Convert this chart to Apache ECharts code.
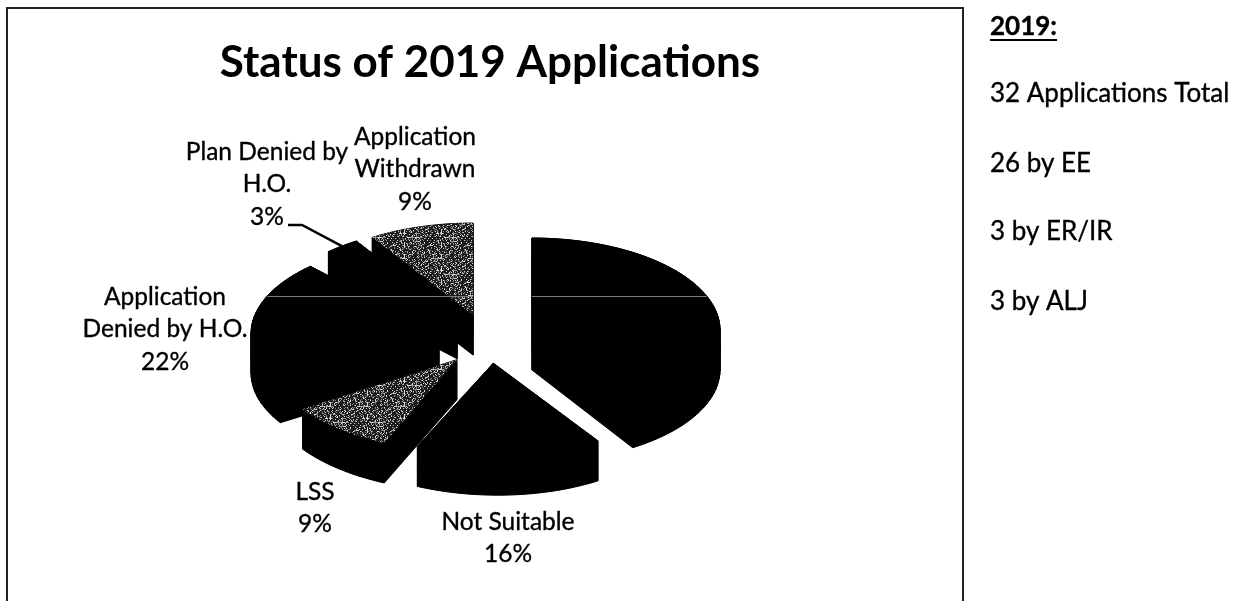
<!DOCTYPE html>
<html>
<head>
<meta charset="utf-8">
<style>html,body{margin:0;padding:0;background:#fff}#chart{width:1248px;height:601px}</style>
<script src="https://cdn.jsdelivr.net/npm/echarts@6/dist/echarts.min.js"></script>
</head>
<body>
<div id="chart"></div>
<script>
// Application outcomes, clockwise from twelve o'clock, in percent.
const categories = ['Other', 'Not Suitable', 'LSS', 'Application Denied by H.O.', 'Plan Denied by H.O.', 'Application Withdrawn'];
const shares = [41, 16, 9, 22, 3, 9];
const labelLines = [null, ['Not Suitable'], ['LSS'], ['Application', 'Denied by H.O.'], ['Plan Denied by', 'H.O.'], ['Application', 'Withdrawn']];
const speckledSlices = ['LSS', 'Application Withdrawn'];
const chartTitle = 'Status of 2019 Applications';
const sideHeading = '2019:';
const sideNotes = ['32 Applications Total', '26 by EE', '3 by ER/IR', '3 by ALJ'];

// Layout of the tilted pie.
const pie = { cx: 486.3, cy: 336.2, rx: 188, ry: 92, depth: 40, explode: 47.6, squash: 0.463 };
// Per-slice correction for the projection of the front slices.
const sliceNudge = [[0, 0], [4, 5], [2, 7], [0, 0], [0, 0], [0, 0]];
const sliceShear = [0, 0.05, 0.09, 0, 0, 0];
const labelCentres = [null, [508, 522], [315, 492], [165, 297], [267, 152], [415, 137]];
const sideNoteY = [94, 164, 232, 302];
const labelFont = {
  fontFamily: 'Lato', fontSize: 24.5, fill: '#000', stroke: '#000', lineWidth: 0.35,
  align: 'center', verticalAlign: 'middle'
};
const sideFont = { fontFamily: 'Lato', fontSize: 26, fill: '#000', stroke: '#000', lineWidth: 0.35, verticalAlign: 'middle' };
const labelLineGap = 32.5;

// Angular extent and exploded apex of each slice.
const total = shares.reduce((a, b) => a + b, 0);
let running = 0;
const slices = shares.map((v, i) => {
  const start = running / total * Math.PI * 2;
  running += v;
  const end = running / total * Math.PI * 2;
  const mid = (start + end) / 2;
  return {
    i, start, end, mid,
    ax: pie.cx + Math.sin(mid) * pie.explode + sliceNudge[i][0],
    ay: pie.cy - Math.cos(mid) * pie.explode * pie.squash + sliceNudge[i][1]
  };
});
const rimPoint = (s, a) => {
  const dy = -pie.ry * Math.cos(a);
  return [s.ax + pie.rx * Math.sin(a) + sliceShear[s.i] * dy, s.ay + dy];
};
const outline = s => {
  const pts = [[s.ax, s.ay]];
  const n = Math.max(4, Math.ceil((s.end - s.start) / 0.04));
  for (let k = 0; k <= n; k++) pts.push(rimPoint(s, s.start + (s.end - s.start) * k / n));
  return pts;
};

// Grainy fill for the speckled slices.
function grainTile() {
  const c = document.createElement('canvas');
  c.width = c.height = 37;
  const g = c.getContext('2d');
  g.fillStyle = '#1c1c1c';
  g.fillRect(0, 0, 37, 37);
  for (let y = 0; y < 37; y++) for (let x = 0; x < 37; x++) {
    const h = (x * 73 + y * 151 + x * y * 17 + (x ^ (y * 5)) * 29) % 23;
    if (h < 7) { g.fillStyle = h < 3 ? '#d8d8d8' : '#8c8c8c'; g.fillRect(x, y, 1, 1); }
  }
  return c;
}
const grain = { image: grainTile(), repeat: 'repeat' };

function renderSlice(params) {
  const s = slices[order[params.dataIndex]];
  const top = outline(s);
  const children = [];
  // Extruded wall: one quad per outline edge.
  top.forEach((p, k) => {
    const q = top[(k + 1) % top.length];
    children.push({
      type: 'polygon',
      shape: { points: [p, q, [q[0], q[1] + pie.depth], [p[0], p[1] + pie.depth]] },
      style: { fill: '#000', stroke: '#000', lineWidth: 1 }
    });
  });
  // Solid core so the wall quads leave no seams.
  children.push({
    type: 'polygon',
    shape: { points: top.map(p => [p[0], p[1] + pie.depth / 2]) },
    style: { fill: '#000', stroke: '#000', lineWidth: 1 }
  });
  const speckled = speckledSlices.includes(categories[s.i]);
  children.push({
    type: 'polygon',
    shape: { points: top },
    style: speckled ? { fill: grain } : { fill: '#000', stroke: '#000', lineWidth: 1 }
  });
  return { type: 'group', children };
}
// Back to front, so nearer slices cover farther ones.
const order = slices.slice().sort((a, b) => a.ay - b.ay).map(s => s.i);

const elements = [];
// Frame, open at the bottom.
elements.push({
  type: 'polyline', z: 5,
  shape: { points: [[7, 601], [7, 8], [963, 8], [963, 601]] },
  style: { stroke: '#222', lineWidth: 2, fill: 'none' }
});
// Slice labels with their percentages.
slices.forEach(s => {
  const centre = labelCentres[s.i];
  if (!centre) return;
  labelLines[s.i].concat(shares[s.i] + '%').forEach((line, k) => {
    elements.push({
      type: 'text', z: 6, x: centre[0], y: centre[1] + k * labelLineGap,
      style: Object.assign({ text: line }, labelFont)
    });
  });
});
// Leader from the 3% label to its slice.
const planSlice = slices[categories.indexOf('Plan Denied by H.O.')];
const planRim = rimPoint(planSlice, planSlice.mid);
elements.push({
  type: 'polyline', z: 6,
  shape: { points: [[288, 225], [302, 225], planRim] },
  style: { stroke: '#000', lineWidth: 2.5, fill: 'none' }
});
// Pale scan stripe crossing the dark faces.
const stripeY = 296;
const halfChord = s => pie.rx * Math.sqrt(1 - Math.pow((stripeY - s.ay) / pie.ry, 2));
const deniedSlice = slices[categories.indexOf('Application Denied by H.O.')];
const withdrawnSlice = slices[categories.indexOf('Application Withdrawn')];
const otherSlice = slices[0];
[[deniedSlice.ax - halfChord(deniedSlice), withdrawnSlice.ax], [otherSlice.ax, otherSlice.ax + halfChord(otherSlice)]].forEach(seg => {
  elements.push({
    type: 'line', z: 4,
    shape: { x1: seg[0], y1: stripeY + 0.5, x2: seg[1], y2: stripeY + 0.5 },
    style: { stroke: '#7c7c7c', lineWidth: 1 }
  });
});
// Side notes.
elements.push({
  type: 'text', z: 6, x: 990, y: 27,
  style: Object.assign({ text: sideHeading, fontWeight: 'bold' }, sideFont)
});
elements.push({
  type: 'line', z: 6,
  shape: { x1: 990, y1: 40, x2: 1057, y2: 40 },
  style: { stroke: '#000', lineWidth: 2 }
});
sideNotes.forEach((t, k) => {
  elements.push({
    type: 'text', z: 6, x: 990, y: sideNoteY[k],
    style: Object.assign({ text: t }, sideFont)
  });
});

const chart = echarts.init(document.getElementById('chart'), null, { renderer: 'canvas' });
chart.setOption({
  animation: false,
  backgroundColor: '#fff',
  title: {
    text: chartTitle, left: 485, top: 58, textAlign: 'center', textVerticalAlign: 'middle',
    textStyle: { fontFamily: 'Lato', fontWeight: 'bold', fontSize: 44, color: '#000' }
  },
  series: [{
    type: 'custom',
    coordinateSystem: 'none',
    silent: true,
    data: order.map(i => ({ name: categories[i], value: shares[i] })),
    renderItem: renderSlice
  }],
  graphic: { elements }
});
</script>
</body>
</html>
